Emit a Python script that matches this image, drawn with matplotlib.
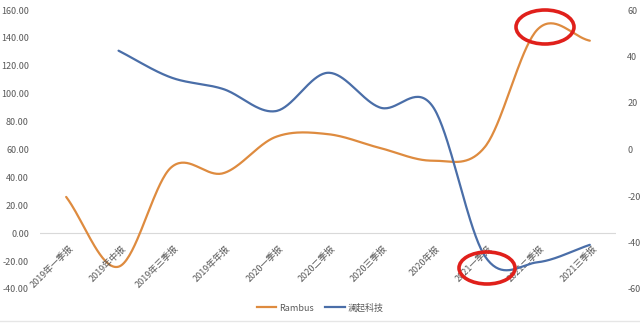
import matplotlib
matplotlib.use("Agg")
import matplotlib.pyplot as plt
from matplotlib.patches import Ellipse
from matplotlib.lines import Line2D
import numpy as np

plt.rcParams['font.family'] = ['Noto Sans CJK SC', 'DejaVu Sans']

categories = ["2019年一季报", "2019年中报", "2019年三季报", "2019年年报", "2020一季报",
              "2020二季报", "2020三季报", "2020年报", "2021一季报", "2021二季报", "2021三季报"]
rambus = [26, -24, 47, 43, 69, 71, 61, 52, 62, 146, 138]
lanqi = [None, 42.5, 31, 26, 16.5, 33, 18, 18.5, -46, -48.5, -41]
left_ticks = [-40, -20, 0, 20, 40, 60, 80, 100, 120, 140, 160]
right_ticks = [-60, -40, -20, 0, 20, 40, 60]

ORANGE = "#DE8B3F"
BLUE = "#4A6EA8"
GRAY = "#595959"


def smooth(xs, ys, n=40):
    xs = np.asarray(xs, float)
    ys = np.asarray(ys, float)
    px = np.concatenate([[2 * xs[0] - xs[1]], xs, [2 * xs[-1] - xs[-2]]])
    py = np.concatenate([[2 * ys[0] - ys[1]], ys, [2 * ys[-1] - ys[-2]]])
    ox, oy = [], []
    t = np.linspace(0, 1, n)
    for i in range(1, len(px) - 2):
        for arr, out in ((px, ox), (py, oy)):
            p0, p1, p2, p3 = arr[i - 1], arr[i], arr[i + 1], arr[i + 2]
            c1 = p1 + (p2 - p0) / 6
            c2 = p2 - (p3 - p1) / 6
            b = ((1 - t) ** 3 * p1 + 3 * (1 - t) ** 2 * t * c1
                 + 3 * (1 - t) * t ** 2 * c2 + t ** 3 * p2)
            out.extend(b if i == 1 else b[1:])
    return np.array(ox), np.array(oy)


fig = plt.figure(figsize=(6.4, 3.23), dpi=100)
ax = fig.add_axes([40 / 640, 1 - 289 / 323, 576 / 640, 279 / 323])
ax2 = ax.twinx()

x = np.arange(len(categories))
sx, sy = smooth(x, rambus)
ax.plot(sx, sy, color=ORANGE, lw=1.6, solid_capstyle='round')
bx = [xi for xi, v in zip(x, lanqi) if v is not None]
bv = [v for v in lanqi if v is not None]
sx2, sy2 = smooth(bx, bv)
ax2.plot(sx2, sy2, color=BLUE, lw=1.6, solid_capstyle='round')

ax.set_xlim(-0.5, len(categories) - 0.5)
ax.set_ylim(-40, 160)
ax2.set_ylim(-60, 60)
ax.set_yticks(left_ticks)
ax.set_yticklabels([f"{v:.2f}" for v in left_ticks])
ax2.set_yticks(right_ticks)
ax2.set_yticklabels([str(v) for v in right_ticks])
ax.tick_params(axis='y', length=0, labelsize=6.5, labelcolor=GRAY, pad=8)
ax2.tick_params(axis='y', length=0, labelsize=6.5, labelcolor=GRAY, pad=8)
ax.set_xticks([])
for a in (ax, ax2):
    for s in a.spines.values():
        s.set_visible(False)
ax.axhline(0, color="#D9D9D9", lw=0.8, zorder=0)

for i, c in enumerate(categories):
    ax.annotate(c, xy=(i, 0), xytext=(4, -10), textcoords='offset points',
                rotation=45, ha='right', va='center', rotation_mode='anchor',
                fontsize=6.5, color=GRAY)

# legend
handles = [Line2D([], [], color=ORANGE, lw=1.6), Line2D([], [], color=BLUE, lw=1.6)]
fig.legend(handles, ["Rambus", "澜起科技"], loc='center', bbox_to_anchor=(0.5, 1 - 308 / 323),
           ncol=2, frameon=False, fontsize=6.5, labelcolor=GRAY, handlelength=2.2,
           handletextpad=0.3, columnspacing=1.2)

# red ellipse highlights
for cx, cy, w, h in [(545, 27, 58, 34), (487, 268, 56, 32)]:
    e = Ellipse((cx / 640, 1 - cy / 323), w / 640, h / 323, transform=fig.transFigure,
                fill=False, edgecolor="#E0201B", lw=2.6, zorder=10)
    fig.add_artist(e)

fig.add_artist(Line2D([0, 1], [1 - 321 / 323] * 2, transform=fig.transFigure,
                      color="#E6E6E6", lw=1))

fig.savefig("out.png", dpi=100, facecolor="white")
